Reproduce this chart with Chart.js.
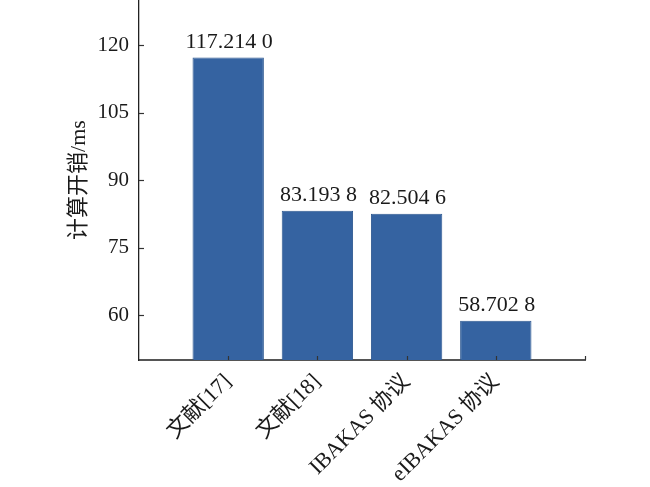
<!DOCTYPE html>
<html>
<head>
<meta charset="utf-8">
<script src="https://cdn.jsdelivr.net/npm/chart.js@4"></script>
<style>
  html, body { margin: 0; padding: 0; background: #fff; }
  #wrap { width: 650px; height: 487px; }
</style>
</head>
<body>
<div id="wrap"><canvas id="c" width="650" height="487"></canvas></div>
<script>
const categories = ['文献[17]', '文献[18]', 'IBAKAS 协议', 'eIBAKAS 协议'];
const costValues = [117.2140, 83.1938, 82.5046, 58.7028];
const yTicks = [60, 75, 90, 105, 120];
const yMin = 50, yMax = 130;

const FONT = '"Liberation Serif", "Noto Sans CJK SC", serif';
const TEXT = '#1a1a1a';

// padded category axis: empty slot at each end
const labels = [''].concat(categories, ['']);
const data = [null].concat(costValues, [null]);

function fmt(v) {
  const s = v.toFixed(4);
  return s.slice(0, s.length - 1) + ' ' + s.slice(s.length - 1);
}

const overlay = {
  id: 'overlay',
  afterDatasetsDraw(chart) {
    const ctx = chart.ctx;
    const xs = chart.scales.x, ys = chart.scales.y;
    const area = chart.chartArea;
    ctx.save();
    // inward ticks
    ctx.strokeStyle = '#333';
    ctx.lineWidth = 1.2;
    yTicks.forEach(t => {
      const py = Math.round(ys.getPixelForValue(t)) + 0.5;
      ctx.beginPath();
      ctx.moveTo(area.left, py);
      ctx.lineTo(area.left + 5, py);
      ctx.stroke();
    });
    for (let i = 1; i < labels.length; i++) {
      const px = Math.round(xs.getPixelForValue(i)) + 0.5;
      ctx.beginPath();
      ctx.moveTo(px, area.bottom);
      ctx.lineTo(px, area.bottom - 4);
      ctx.stroke();
    }
    // value labels
    ctx.fillStyle = TEXT;
    ctx.font = '22px ' + FONT;
    ctx.textAlign = 'center';
    ctx.textBaseline = 'alphabetic';
    const meta = chart.getDatasetMeta(0);
    meta.data.forEach((bar, i) => {
      const v = data[i];
      if (v == null) return;
      ctx.fillText(fmt(v), bar.x + 1, bar.y - 10);
    });
    ctx.restore();
  }
};

new Chart(document.getElementById('c'), {
  type: 'bar',
  data: {
    labels: labels,
    datasets: [{
      data: data,
      backgroundColor: '#3563a1',
      borderColor: '#2e5890',
      borderWidth: 1,
      borderSkipped: 'bottom',
      barPercentage: 0.8,
      categoryPercentage: 1.0
    }]
  },
  options: {
    responsive: false,
    animation: false,
    devicePixelRatio: 1,
    layout: { padding: { top: 0, right: 65, bottom: 0, left: 0 } },
    plugins: {
      legend: { display: false },
      tooltip: { enabled: false }
    },
    scales: {
      x: {
        type: 'category',
        offset: false,
        grid: { display: false, drawTicks: false },
        border: { display: true, color: '#555', width: 2 },
        ticks: {
          autoSkip: false,
          minRotation: 45,
          maxRotation: 45,
          padding: 9,
          color: TEXT,
          font: { family: FONT, size: 22 }
        },
        afterFit(scale) {
          scale.height = 127;
          scale.paddingLeft = 0;
          scale.paddingRight = 0;
        }
      },
      y: {
        min: yMin,
        max: yMax,
        grid: { display: false, drawTicks: false },
        border: { display: true, color: '#222', width: 1.3 },
        afterBuildTicks(scale) {
          scale.ticks = yTicks.map(v => ({ value: v }));
        },
        ticks: {
          padding: 10,
          color: TEXT,
          font: { family: FONT, size: 21 }
        },
        title: {
          display: true,
          text: '计算开销/ms',
          color: TEXT,
          font: { family: FONT, size: 22 },
          padding: { top: 66, bottom: 0 }
        },
        afterFit(scale) {
          scale.width = 139;
          scale.paddingTop = 0;
          scale.paddingBottom = 0;
        }
      }
    }
  },
  plugins: [overlay]
});
</script>
</body>
</html>
